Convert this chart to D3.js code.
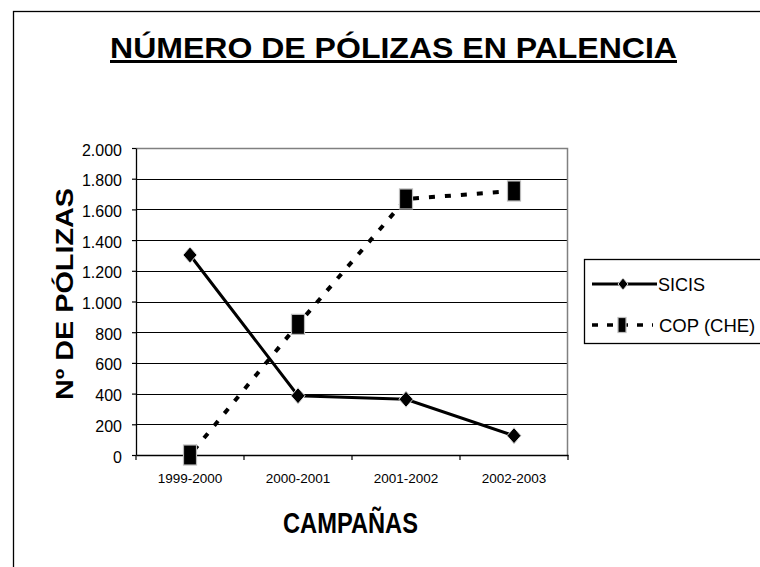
<!DOCTYPE html>
<html>
<head>
<meta charset="utf-8">
<script src="https://cdn.jsdelivr.net/npm/d3@7"></script>
<style>
  body { margin: 0; background: #fff; }
  svg { display: block; }
  text { font-family: "Liberation Sans", Arial, sans-serif; fill: #000; }
</style>
</head>
<body>
<div class="chart"></div>
<script>
var campaigns = ["1999-2000", "2000-2001", "2001-2002", "2002-2003"];
var sicis = [1303, 386, 363, 126];
var cop = [0, 851, 1668, 1720];
var yTicks = [0, 200, 400, 600, 800, 1000, 1200, 1400, 1600, 1800, 2000];

var svgWidth = 760;
var svgHeight = 567;

var plot = { left: 136, top: 148, right: 568, bottom: 455 };

var svg = d3.select(".chart")
  .append("svg")
  .attr("width", svgWidth)
  .attr("height", svgHeight);

// outer chart border
svg.append("rect")
  .attr("x", 13.5).attr("y", 11.5)
  .attr("width", 800).attr("height", 600)
  .attr("fill", "none").attr("stroke", "#000").attr("stroke-width", 1.3);

var x = d3.scaleBand().domain(campaigns).range([plot.left, plot.right]);
var y = d3.scaleLinear().domain([0, 2000]).range([plot.bottom, plot.top]);

// gridlines
svg.append("g")
  .selectAll("line")
  .data(yTicks.slice(1))
  .enter()
  .append("line")
  .attr("x1", plot.left).attr("x2", plot.right)
  .attr("y1", d => Math.round(y(d)) + 0.5).attr("y2", d => Math.round(y(d)) + 0.5)
  .attr("stroke", "#000").attr("stroke-width", 1);

// plot frame (top/right grey)
svg.append("path")
  .attr("d", `M${plot.left},${plot.top + 0.5}H${plot.right - 0.5}V${plot.bottom}`)
  .attr("fill", "none").attr("stroke", "#808080").attr("stroke-width", 1.5);

var fmt = d => d3.format(",")(d).replace(/,/g, ".");

var yAxis = svg.append("g")
  .attr("transform", `translate(${plot.left},0)`)
  .call(d3.axisLeft(y).tickValues(yTicks).tickFormat(fmt).tickSize(4).tickPadding(10).tickSizeOuter(0));
yAxis.select(".domain").attr("stroke", "#000").attr("stroke-width", 1.3);
yAxis.selectAll(".tick line").attr("stroke-width", 1.2);
yAxis.selectAll("text").attr("font-size", 16).attr("dy", "0.38em")
  .attr("transform", "translate(0,1)");

var xAxis = svg.append("g")
  .attr("transform", `translate(0,${plot.bottom})`)
  .call(d3.axisBottom(x).tickSize(0).tickSizeOuter(0));
xAxis.select(".domain").attr("stroke", "#000").attr("stroke-width", 1.3);
xAxis.selectAll("text").attr("font-size", 13.5).attr("y", 28).attr("dy", 0);

// category boundary ticks
svg.append("g")
  .selectAll("line")
  .data(d3.range(campaigns.length + 1))
  .enter()
  .append("line")
  .attr("x1", i => plot.left + i * x.bandwidth())
  .attr("x2", i => plot.left + i * x.bandwidth())
  .attr("y1", plot.bottom).attr("y2", plot.bottom + 5)
  .attr("stroke", "#000").attr("stroke-width", 1.2);

var cx = d => x(d) + x.bandwidth() / 2;

// COP line (dashed)
svg.append("path")
  .datum(cop)
  .attr("d", d3.line().x((d, i) => cx(campaigns[i])).y(d => y(d)))
  .attr("fill", "none").attr("stroke", "#000").attr("stroke-width", 4)
  .attr("stroke-dasharray", "6,10").attr("stroke-dashoffset", -6);

// SICIS line
svg.append("path")
  .datum(sicis)
  .attr("d", d3.line().x((d, i) => cx(campaigns[i])).y(d => y(d)))
  .attr("fill", "none").attr("stroke", "#000").attr("stroke-width", 3);

function diamond(g, px, py, rx, ry) {
  g.append("path")
    .attr("d", `M${px},${py - ry}L${px + rx},${py}L${px},${py + ry}L${px - rx},${py}Z`)
    .attr("fill", "#000").attr("stroke", "#ddd").attr("stroke-width", 1);
}
function block(g, px, py, w, h) {
  g.append("rect")
    .attr("x", px - w / 2).attr("y", py - h / 2)
    .attr("width", w).attr("height", h)
    .attr("fill", "#000").attr("stroke", "#bbb").attr("stroke-width", 1.2);
}

var markers = svg.append("g");
cop.forEach((d, i) => block(markers, cx(campaigns[i]), y(d), 13, 20));
sicis.forEach((d, i) => diamond(markers, cx(campaigns[i]), y(d), 7, 8));

// title
svg.append("text")
  .attr("x", 110).attr("y", 58)
  .attr("font-size", 30).attr("font-weight", "bold")
  .attr("textLength", 567).attr("lengthAdjust", "spacingAndGlyphs")
  .attr("text-decoration", "underline")
  .text("NÚMERO DE PÓLIZAS EN PALENCIA");

// axis titles
svg.append("text")
  .attr("transform", "translate(73,400) rotate(-90)")
  .attr("font-size", 23.5).attr("font-weight", "bold")
  .attr("textLength", 212).attr("lengthAdjust", "spacingAndGlyphs")
  .text("Nº DE PÓLIZAS");

svg.append("text")
  .attr("x", 283).attr("y", 533)
  .attr("font-size", 29).attr("font-weight", "bold")
  .attr("textLength", 135).attr("lengthAdjust", "spacingAndGlyphs")
  .text("CAMPAÑAS");

// legend
var legend = svg.append("g");
legend.append("rect")
  .attr("x", 584.5).attr("y", 259.5)
  .attr("width", 180).attr("height", 84)
  .attr("fill", "#fff").attr("stroke", "#000").attr("stroke-width", 1.3);

legend.append("line")
  .attr("x1", 592).attr("x2", 657).attr("y1", 284).attr("y2", 284)
  .attr("stroke", "#000").attr("stroke-width", 3);
diamond(legend, 623, 284, 5, 6);
legend.append("text")
  .attr("x", 658).attr("y", 291)
  .attr("font-size", 18).text("SICIS");

legend.append("line")
  .attr("x1", 592).attr("x2", 653).attr("y1", 325).attr("y2", 325)
  .attr("stroke", "#000").attr("stroke-width", 3.5)
  .attr("stroke-dasharray", "6,9");
block(legend, 622, 325, 8, 15);
legend.append("text")
  .attr("x", 659).attr("y", 332)
  .attr("font-size", 18.5).text("COP (CHE)");
</script>
</body>
</html>
